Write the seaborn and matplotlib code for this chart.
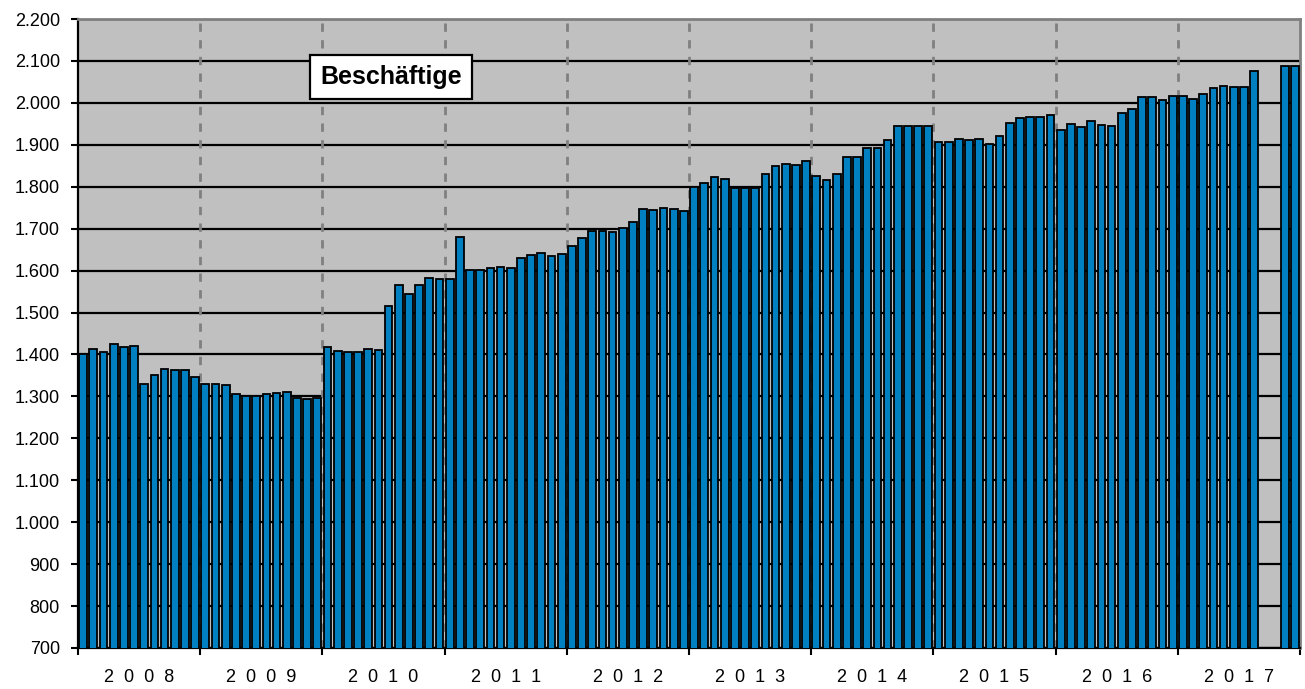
import numpy as np
import pandas as pd
import matplotlib
matplotlib.use("Agg")
import matplotlib.pyplot as plt
import seaborn as sns

# Monatswerte je Jahr, Sep/Okt 2017 fehlen
jahre = ['2008', '2009', '2010', '2011', '2012', '2013', '2014', '2015', '2016', '2017']
y2008 = [1400, 1413, 1406, 1424, 1418, 1421, 1330, 1351, 1366, 1364, 1362, 1347]
y2009 = [1329, 1330, 1327, 1305, 1302, 1302, 1306, 1308, 1310, 1296, 1293, 1296]
y2010 = [1418, 1408, 1406, 1407, 1412, 1410, 1515, 1565, 1544, 1566, 1583, 1581]
y2011 = [1579, 1680, 1601, 1601, 1607, 1608, 1607, 1630, 1637, 1641, 1636, 1639]
y2012 = [1659, 1678, 1694, 1694, 1692, 1701, 1717, 1748, 1745, 1750, 1746, 1743]
y2013 = [1799, 1809, 1823, 1819, 1798, 1796, 1798, 1830, 1850, 1854, 1853, 1862]
y2014 = [1825, 1816, 1831, 1872, 1871, 1893, 1892, 1912, 1946, 1946, 1946, 1946]
y2015 = [1907, 1906, 1914, 1911, 1915, 1901, 1922, 1951, 1964, 1967, 1967, 1970]
y2016 = [1936, 1949, 1943, 1956, 1948, 1945, 1977, 1985, 2014, 2015, 2007, 2016]
y2017 = [2016, 2010, 2022, 2036, 2040, 2038, 2037, 2077, np.nan, np.nan, 2089, 2088]
werte = y2008 + y2009 + y2010 + y2011 + y2012 + y2013 + y2014 + y2015 + y2016 + y2017

monate = [f"{j}-{m:02d}" for j in jahre for m in range(1, 13)]
df = pd.DataFrame({'Monat': monate, 'Beschaeftigte': werte}).dropna()

sns.set_style("ticks")
plt.rcParams['font.family'] = ['Liberation Sans', 'DejaVu Sans']
plt.rcParams['text.color'] = 'black'
plt.rcParams['xtick.labelcolor'] = 'black'
plt.rcParams['ytick.labelcolor'] = 'black'

fig = plt.figure(figsize=(13.05, 6.89), dpi=100)
ax = fig.add_axes([78 / 1305, 1 - 648 / 689, 1222 / 1305, 629 / 689])
ax.set_facecolor('#C0C0C0')

sns.barplot(data=df, x='Monat', y='Beschaeftigte', order=monate, color='#0080C0',
            saturation=1, edgecolor='black', linewidth=1.3, width=0.76, ax=ax, zorder=3)

# Achsen
ax.set_ylim(700, 2200)
ax.set_xlim(-0.5, len(monate) - 0.5)
ax.set_yticks(range(700, 2201, 100))
ax.set_yticklabels([f"{v:,}".replace(',', '.') for v in range(700, 2201, 100)], fontsize=13)
ax.yaxis.grid(True, color='black', lw=1.6, zorder=1)
ax.set_axisbelow(True)

grenzen = [i * 12 - 0.5 for i in range(len(jahre) + 1)]
for g in grenzen[1:-1]:
    ax.axvline(g, color='#808080', lw=2, ls=(0, (3, 3)), zorder=1)

ax.set_xticks(grenzen)
ax.set_xticklabels([])
ax.set_xticks([i * 12 + 5.5 for i in range(len(jahre))], minor=True)
ax.set_xticklabels(['  '.join(j) for j in jahre], minor=True, fontsize=13)
ax.tick_params(axis='x', which='minor', length=0, pad=15, labelcolor='black')
ax.tick_params(axis='x', which='major', length=5, width=1.5, color='black')
ax.tick_params(axis='y', length=5, width=1.5, color='black', pad=8, labelcolor='black')
ax.set_xlabel('')
ax.set_ylabel('')

for s in ['left', 'bottom']:
    ax.spines[s].set_color('black')
    ax.spines[s].set_linewidth(1.6)
for s in ['top', 'right']:
    ax.spines[s].set_color('#808080')
    ax.spines[s].set_linewidth(2)
    ax.spines[s].set_visible(True)

ax.text(0.256, 0.908, 'Beschäftige', transform=ax.transAxes, ha='center', va='center',
        fontsize=18, fontweight='bold', color='black', zorder=5,
        bbox=dict(boxstyle='square,pad=0.4', fc='white', ec='black', lw=1.6))

plt.savefig('out.png', dpi=100)
